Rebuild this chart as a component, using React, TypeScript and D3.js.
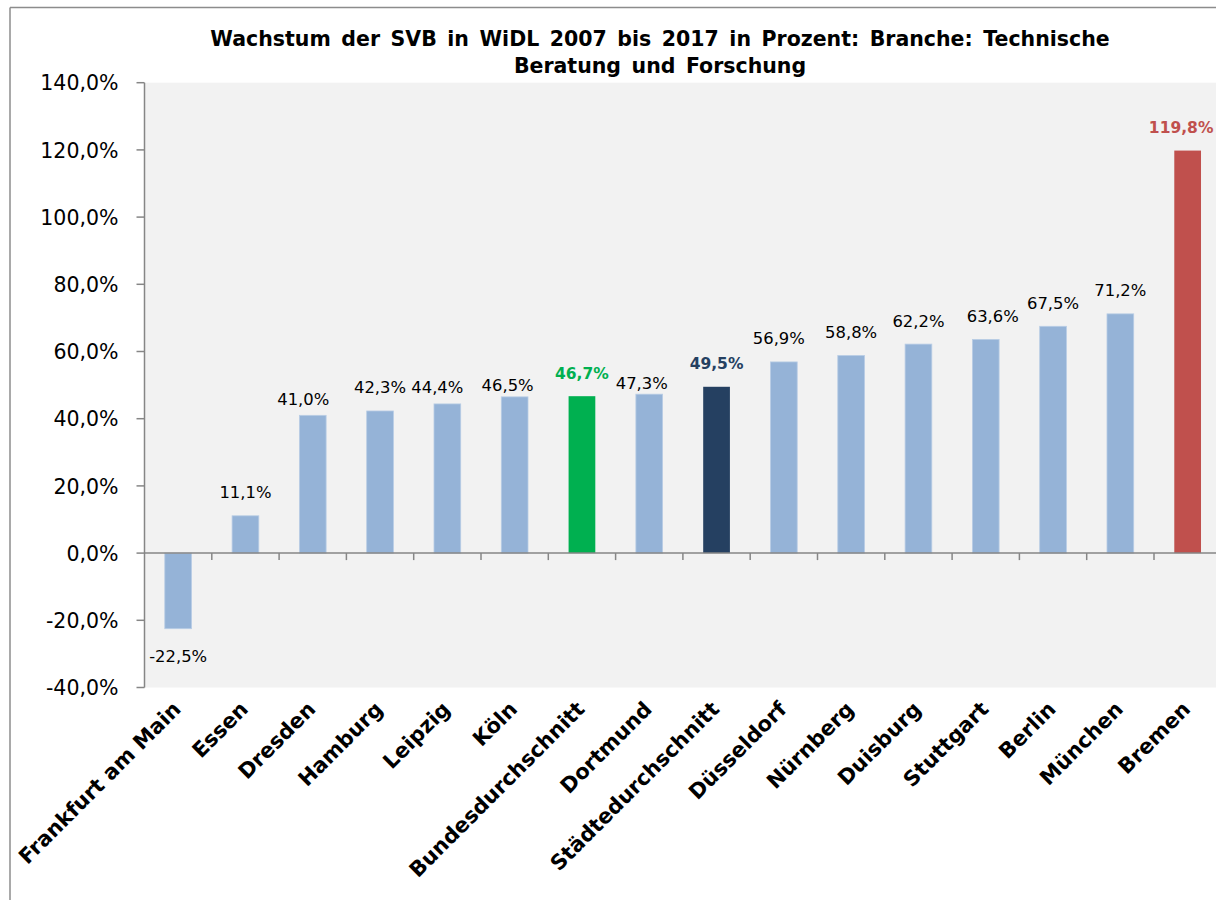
import React from "react";
import * as d3 from "d3";

const categories = [
  "Frankfurt am Main", "Essen", "Dresden", "Hamburg", "Leipzig", "Köln",
  "Bundesdurchschnitt", "Dortmund", "Städtedurchschnitt", "Düsseldorf",
  "Nürnberg", "Duisburg", "Stuttgart", "Berlin", "München", "Bremen",
];
const values = [
  -22.5, 11.1, 41.0, 42.3, 44.4, 46.5, 46.7, 47.3, 49.5, 56.9, 58.8, 62.2,
  63.6, 67.5, 71.2, 119.8,
];
const yTicks = [-40, -20, 0, 20, 40, 60, 80, 100, 120, 140];
const titleLines = [
  "Wachstum der SVB in WiDL 2007 bis 2017 in Prozent: Branche: Technische",
  "Beratung und Forschung",
];

// styling
const highlight: Record<string, { fill: string; bold: boolean }> = {
  Bundesdurchschnitt: { fill: "#00b050", bold: true },
  "Städtedurchschnitt": { fill: "#254061", bold: true },
  Bremen: { fill: "#c0504d", bold: true },
};
const baseFill = "#95b3d7";
// manual label nudges (dx, dy) as in the original layout
const labelNudge: Record<string, [number, number]> = {
  Dresden: [-9.5, 7],
  Leipzig: [-10, 7],
  "Köln": [-7, 11.5],
  Dortmund: [-7.5, 12.5],
  "Düsseldorf": [-5, 0],
  Stuttgart: [7, 0],
  Bremen: [-6.5, 0],
};

const fmt = (v: number, d = 1) => v.toFixed(d).replace(".", ",") + "%";

export default function App() {
  const W = 1216, H = 900;
  const x0 = 144.5, x1 = 144.5 + 67.3 * 16;
  const yTop = 82.7, yBot = 687.5;
  const x = d3.scaleBand<string>().domain(categories).range([x0, x1])
    .paddingInner(0.603).paddingOuter(0.3015);
  const y = d3.scaleLinear().domain([-40, 140]).range([yBot, yTop]);
  const step = x.step();
  const axisColor = "#868686";
  const font = "'DejaVu Sans', Verdana, sans-serif";

  return (
    <svg width={W} height={H} style={{ position: "absolute", left: 0, top: 0, background: "#fff" }}
      fontFamily={font}>
      {/* outer frame */}
      <line x1={10} y1={7.5} x2={W} y2={7.5} stroke="#8c8c8c" strokeWidth={1.5} />
      <line x1={10} y1={7.5} x2={10} y2={H} stroke="#8c8c8c" strokeWidth={1.5} />

      {/* title */}
      {titleLines.map((t, i) => (
        <text key={i} x={660} y={46 + i * 27} textAnchor="middle" fontWeight="bold"
          fontSize={20.5} wordSpacing={3.4} fill="#000">{t}</text>
      ))}

      {/* plot area */}
      <rect x={x0} y={yTop} width={x1 - x0} height={yBot - yTop} fill="#f2f2f2" />

      {/* bars */}
      {categories.map((c, i) => {
        const v = values[i];
        const fill = highlight[c]?.fill ?? baseFill;
        const bx = x(c)!;
        const top = y(Math.max(0, v));
        const h = Math.abs(y(v) - y(0));
        return <rect key={c} x={bx} y={top} width={x.bandwidth()} height={h} fill={fill}
          stroke={highlight[c] ? "none" : "#b9cde5"} strokeWidth={0.8} />;
      })}

      {/* y axis */}
      <line x1={x0} y1={yTop} x2={x0} y2={yBot} stroke={axisColor} strokeWidth={1.5} />
      {yTicks.map((t) => (
        <g key={t}>
          <line x1={x0 - 8} x2={x0} y1={y(t)} y2={y(t)} stroke={axisColor} strokeWidth={1.5} />
          <text x={118.5} y={y(t) + 7.6} textAnchor="end" fontSize={20.5} fill="#000">
            {fmt(t)}
          </text>
        </g>
      ))}

      {/* x axis at zero */}
      <line x1={x0} y1={y(0)} x2={x1} y2={y(0)} stroke={axisColor} strokeWidth={1.5} />
      {d3.range(1, categories.length).map((k) => (
        <line key={k} x1={x0 + k * step} x2={x0 + k * step} y1={y(0)} y2={y(0) + 7}
          stroke={axisColor} strokeWidth={1.5} />
      ))}

      {/* data labels */}
      {categories.map((c, i) => {
        const v = values[i];
        const hl = highlight[c];
        const [dx, dy] = labelNudge[c] ?? [0, 0];
        const cx = x(c)! + x.bandwidth() / 2 + dx;
        const ly = v >= 0 ? y(v) - 17.5 + dy : y(v) + 33;
        return (
          <text key={c} x={cx} y={ly} textAnchor="middle" fontSize={hl ? 15.5 : 16.4}
            fontWeight={hl ? "bold" : "normal"} fill={hl ? hl.fill : "#000"}>
            {fmt(v)}
          </text>
        );
      })}

      {/* category labels */}
      {categories.map((c) => {
        const cx = x(c)! + x.bandwidth() / 2;
        return (
          <text key={c} transform={`translate(${cx + 4},${710.5}) rotate(-45)`}
            textAnchor="end" fontWeight="bold" fontSize={21} fill="#000">{c}</text>
        );
      })}
    </svg>
  );
}
